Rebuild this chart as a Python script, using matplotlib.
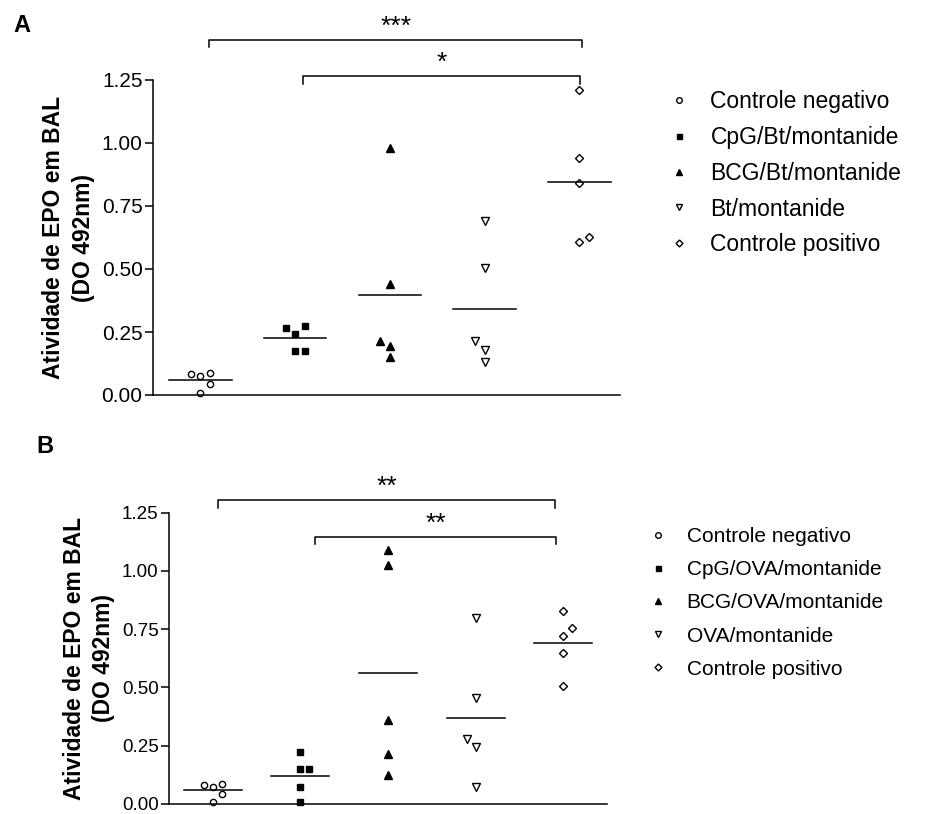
import matplotlib
matplotlib.use("Agg")
import matplotlib.pyplot as plt
import numpy as np

plt.rcParams['font.family'] = ['Liberation Sans', 'DejaVu Sans']

# painel A
labels_a = ["Controle negativo", "CpG/Bt/montanide", "BCG/Bt/montanide",
            "Bt/montanide", "Controle positivo"]
values_a = [
    [0.083, 0.074, 0.087, 0.045, 0.009],
    [0.265, 0.242, 0.275, 0.173, 0.173],
    [0.979, 0.439, 0.213, 0.193, 0.152],
    [0.690, 0.503, 0.216, 0.177, 0.130],
    [1.210, 0.939, 0.841, 0.608, 0.627],
]
offsets_a = [
    [-0.1, 0, 0.1, 0.1, 0],
    [-0.1, 0, 0.1, 0, 0.1],
    [0, 0, -0.1, 0, 0],
    [0, 0, -0.1, 0, 0],
    [0, 0, 0, 0, 0.1],
]
# (grupo inicial, grupo final, texto)
signif_a = [(1, 5, "***"), (2, 5, "*")]

# painel B
labels_b = ["Controle negativo", "CpG/OVA/montanide", "BCG/OVA/montanide",
            "OVA/montanide", "Controle positivo"]
values_b = [
    [0.081, 0.072, 0.086, 0.044, 0.009],
    [0.222, 0.149, 0.151, 0.072, 0.007],
    [1.089, 1.027, 0.360, 0.216, 0.123],
    [0.800, 0.454, 0.279, 0.246, 0.074],
    [0.830, 0.754, 0.721, 0.650, 0.507],
]
offsets_b = [
    [-0.1, 0, 0.1, 0.1, 0],
    [0, 0, 0.1, 0, 0],
    [0, 0, 0, 0, 0],
    [0, 0, -0.1, 0, 0],
    [0, 0.1, 0, 0, 0],
]
signif_b = [(1, 5, "**"), (2, 5, "**")]

yticks = [0.0, 0.25, 0.5, 0.75, 1.0, 1.25]
ylabel = "Atividade de EPO em BAL\n(DO 492nm)"

markers = [
    dict(marker="o", mfc="white", ms=4.5),
    dict(marker="s", mfc="black", ms=4.0),
    dict(marker="^", mfc="black", ms=5.3),
    dict(marker="v", mfc="white", ms=5.3),
    dict(marker="D", mfc="white", ms=3.9),
]


def draw_panel(ax, values, offsets, labels, signif, xmax, bracket_y, tick_fs,
               label_fs, leg_fs, leg_anchor, leg_space):
    handles = []
    for i, (vals, offs) in enumerate(zip(values, offsets)):
        pos = i + 1
        st = markers[i]
        h, = ax.plot(np.array(offs) + pos, vals, linestyle="none",
                     marker=st["marker"], mfc=st["mfc"], mec="black",
                     mew=1.0, ms=st["ms"], clip_on=False)
        handles.append(h)
        m = np.mean(vals)
        ax.plot([pos - 0.33, pos + 0.33], [m, m], color="black", lw=1.1)

    ax.set_xlim(0.5, xmax)
    ax.set_ylim(0, 1.25)
    ax.set_yticks(yticks)
    ax.set_yticklabels([f"{t:.2f}" for t in yticks], fontsize=tick_fs)
    ax.set_xticks([])
    ax.spines["top"].set_visible(False)
    ax.spines["right"].set_visible(False)
    ax.spines["left"].set_linewidth(1.1)
    ax.spines["bottom"].set_linewidth(1.1)
    ax.tick_params(axis="y", direction="out", length=5.5, width=1.1, pad=2)
    ax.set_ylabel(ylabel, fontsize=label_fs, fontweight="bold",
                  linespacing=1.35, labelpad=5)

    for (g1, g2, txt), (x1, x2, yb, drop) in zip(signif, bracket_y):
        ax.plot([x1, x1, x2, x2], [yb - drop, yb, yb, yb - drop],
                color="black", lw=1.1, clip_on=False)
        ax.text((x1 + x2) / 2, yb + 0.005, txt, ha="center", va="bottom",
                fontsize=19, clip_on=False)

    ax.legend(handles, labels, loc="upper left", bbox_to_anchor=leg_anchor,
              bbox_transform=ax.figure.transFigure, frameon=False,
              fontsize=leg_fs, handlelength=1.0, handletextpad=0.85,
              labelspacing=leg_space, borderpad=0, borderaxespad=0,
              markerscale=0.9)


fig = plt.figure(figsize=(9.28, 8.14), dpi=100)

ax_a = fig.add_axes([153 / 928, 1 - 395 / 814, (620 - 153) / 928, (395 - 80) / 814])
draw_panel(ax_a, values_a, offsets_a, labels_a, signif_a, 5.43,
           [(1.095, 5.03, 1.409, 0.028), (2.08, 5.01, 1.266, 0.032)],
           15, 16.5, 16.5, (668 / 928, 1 - 90 / 814), 0.56)

ax_b = fig.add_axes([169 / 928, 1 - 804 / 814, (607 - 169) / 928, (804 - 512.7) / 814])
draw_panel(ax_b, values_b, offsets_b, labels_b, signif_b, 5.50,
           [(1.065, 4.906, 1.303, 0.033), (2.166, 4.918, 1.146, 0.032)],
           13.5, 16.5, 15, (648 / 928, 1 - 527 / 814), 0.68)

fig.text(22 / 928, 1 - 25 / 814, "A", fontsize=17, fontweight="bold",
         ha="center", va="center")
fig.text(45 / 928, 1 - 447 / 814, "B", fontsize=17, fontweight="bold",
         ha="center", va="center")

fig.savefig("out.png", dpi=100)
